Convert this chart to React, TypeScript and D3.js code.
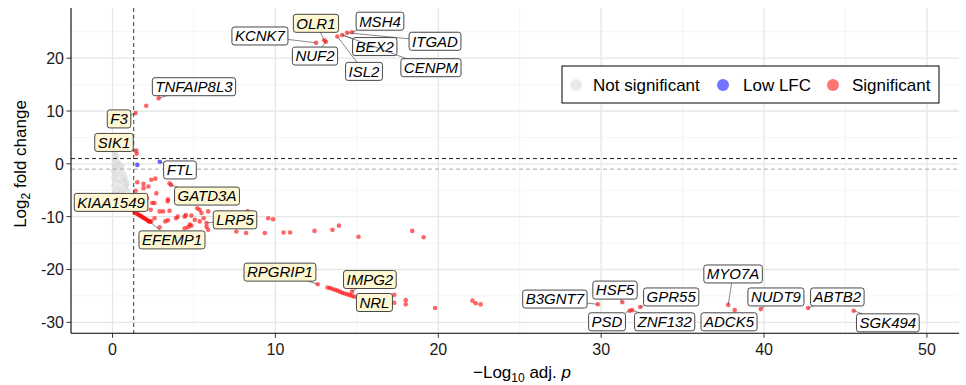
import React, { useEffect, useRef } from "react";
import * as d3 from "d3";

// ---------- data ----------
const xTicks = [0, 10, 20, 30, 40, 50];
const yTicks = [-30, -20, -10, 0, 10, 20];
const xMinor = [5, 15, 25, 35, 45];
const yMinor = [-25, -15, -5, 5, 15, 25];

const notSigPoints: [number, number][] = [
  [0.05, 2.4], [0.1, 1.8], [0.2, 1.2], [0.08, 0.9], [0.3, 0.6], [0.15, 0.3], [0.4, 0.1],
  [0.05, -0.2], [0.25, -0.4], [0.5, -0.6], [0.12, -0.8], [0.35, -1.0], [0.6, -1.1],
  [0.02, -1.3], [0.2, -1.5], [0.45, -1.7], [0.7, -1.8], [0.1, -2.0], [0.3, -2.2],
  [0.55, -2.4], [0.8, -2.5], [0.05, -2.7], [0.25, -2.9], [0.5, -3.1], [0.75, -3.2],
  [0.15, -3.4], [0.4, -3.6], [0.65, -3.8], [0.9, -3.9], [0.05, -4.1], [0.3, -4.3],
  [0.55, -4.5], [0.8, -4.6], [0.2, -4.8], [0.45, -5.0], [0.7, -5.2], [0.1, -5.4],
  [0.35, -5.6], [0.6, -5.8], [0.85, -4.2], [0.95, -5.0], [0.25, -6.0], [0.5, -6.1],
  [0.18, 2.0], [0.28, 1.5], [0.38, -0.1], [0.62, -0.3], [0.72, -2.9], [0.88, -3.4],
];

const lowLfcPoints: [number, number][] = [
  [1.52, -0.2], [2.9, 0.4],
];

const sigPoints: [number, number][] = [
  // top cluster
  [12.5, 22.9], [13.0, 23.4], [13.1, 23.1], [13.8, 24.1], [14.1, 24.4], [14.4, 24.8], [14.7, 24.9],
  // upper
  [2.83, 12.4], [2.07, 11.0], [1.42, 9.6], [1.46, 2.5], [1.48, 1.9],
  // middle
  [1.52, -3.5], [1.9, -3.8], [2.38, -3.0], [2.63, -2.8], [3.5, -3.7], [3.6, -4.0],
  [1.42, -5.1], [2.69, -5.6], [3.4, -6.7], [3.39, -7.1], [2.44, -7.4], [2.58, -7.4],
  [2.89, -9.0], [3.1, -9.0], [2.34, -8.7], [3.5, -8.9], [3.9, -10.3], [4.0, -10.0],
  [2.58, -10.3], [2.38, -10.9], [3.24, -10.9], [3.4, -10.7], [2.89, -12.0],
  [4.43, -10.0], [4.5, -9.7], [4.84, -9.8], [5.2, -8.4], [5.35, -8.7], [5.46, -9.3],
  [5.6, -10.3], [5.35, -10.9], [5.05, -10.6], [4.74, -11.5], [4.43, -12.2], [4.63, -12.0],
  [4.84, -11.7], [5.77, -11.9], [5.87, -12.5], [5.87, -9.0], [5.77, -11.2],
  [1.9, -4.6], [2.2, -4.3], [1.7, -6.2], [2.1, -6.5], [1.6, -8.1], [2.0, -8.3],
  [7.6, -12.8], [8.2, -13.1], [8.3, -9.0], [9.35, -13.1], [9.56, -10.3], [9.86, -10.5],
  [10.5, -13.0], [10.9, -13.0], [12.4, -12.7], [13.5, -12.5], [13.9, -11.7], [15.1, -13.8],
  [18.4, -12.7], [19.1, -13.9],
  // KIAA1549 streak
  [1.35, -9.2], [1.45, -9.4], [1.55, -9.5], [1.62, -9.7], [1.7, -9.8], [1.78, -9.95],
  [1.85, -10.1], [1.92, -10.25], [2.0, -10.4], [2.08, -10.55], [2.15, -10.7], [2.22, -10.85], [2.3, -11.0],
  // NRL streak
  [12.6, -22.8], [13.2, -23.4], [13.35, -23.5], [13.5, -23.7], [13.65, -23.85], [13.8, -24.0],
  [13.95, -24.2], [14.1, -24.4], [14.25, -24.55], [14.4, -24.7], [14.55, -24.85], [14.7, -25.0],
  [14.85, -25.15], [14.7, -24.2],
  // right
  [17.3, -24.8], [17.3, -26.3], [18.0, -25.8], [18.0, -26.6], [19.8, -27.3],
  [22.1, -25.9], [22.3, -26.4], [22.6, -26.6],
  // bottom right
  [29.8, -26.6], [31.3, -26.2], [31.75, -27.8], [31.9, -27.7], [32.4, -27.1],
  [37.8, -26.7], [38.2, -27.7], [39.8, -27.5], [42.7, -27.3], [45.5, -27.8],
];

// gene, point x, point y, label x, label y, highlighted
const labelGenes = [
  "OLR1", "MSH4", "KCNK7", "ITGAD", "BEX2", "NUF2", "ISL2", "CENPM", "TNFAIP8L3", "F3",
  "SIK1", "FTL", "GATD3A", "KIAA1549", "LRP5", "EFEMP1", "RPGRIP1", "IMPG2", "NRL",
  "B3GNT7", "HSF5", "GPR55", "PSD", "ZNF132", "MYO7A", "ADCK5", "NUDT9", "ABTB2", "SGK494",
];
const labelPointX = [13.0, 14.7, 12.5, 14.4, 14.1, 13.1, 13.8, 14.1, 2.83, 1.42,
  1.46, 2.9, 3.6, 1.35, 5.77, 2.3, 12.6, 14.7, 14.85,
  29.8, 31.3, 32.4, 31.75, 31.9, 37.8, 38.2, 39.8, 42.7, 45.5];
const labelPointY = [23.4, 24.9, 22.9, 24.8, 24.4, 23.1, 24.1, 24.4, 12.4, 9.6,
  2.5, 0.4, -4.0, -9.2, -11.2, -11.0, -22.8, -24.2, -25.15,
  -26.6, -26.2, -27.1, -27.8, -27.7, -26.7, -27.7, -27.5, -27.3, -27.8];
const labelX = [12.49, 16.42, 9.05, 19.8, 16.1, 12.43, 15.44, 19.55, 5.0, 0.4,
  0.09, 4.14, 5.8, -0.09, 7.52, 3.65, 10.28, 15.8, 16.08,
  27.16, 30.85, 34.3, 30.36, 33.9, 38.1, 37.85, 40.73, 44.5, 47.6];
const labelY = [26.6, 27.0, 24.2, 23.2, 22.2, 20.4, 17.5, 18.2, 14.6, 8.5,
  4.05, -1.16, -6.1, -7.3, -10.6, -14.4, -20.5, -21.9, -26.25,
  -25.6, -23.9, -25.2, -29.9, -29.9, -20.85, -29.9, -25.2, -25.2, -30.1];
const labelHighlighted = [true, false, false, false, false, false, false, false, false, true,
  true, false, true, true, true, true, true, true, true,
  false, false, false, false, false, false, false, false, false, false];

const legendLabels = ["Not significant", "Low LFC", "Significant"];

// ---------- styles ----------
const W = 966, H = 385;
const FONT = "'Liberation Sans', Arial, sans-serif";
const COL_NS = "#d6d6d6";
const COL_LOW = "#0000ff";
const COL_SIG = "#ff0000";

export default function App() {
  const ref = useRef<SVGSVGElement>(null);

  useEffect(() => {
    const svg = d3.select(ref.current);
    svg.selectAll("*").remove();

    const left = 71, right = 959, top = 8, bottom = 333.3;
    const x = d3.scaleLinear().domain([-2.55, 51.97]).range([left, right]);
    const y = d3.scaleLinear().domain([29.5, -32.08]).range([top, bottom]);

    const g = svg.append("g");

    // grid
    g.selectAll(".xminor").data(xMinor).join("line")
      .attr("x1", d => x(d)).attr("x2", d => x(d)).attr("y1", top).attr("y2", bottom)
      .attr("stroke", "#f2f2f2").attr("stroke-width", 0.8);
    g.selectAll(".yminor").data(yMinor).join("line")
      .attr("x1", left).attr("x2", right).attr("y1", d => y(d)).attr("y2", d => y(d))
      .attr("stroke", "#f2f2f2").attr("stroke-width", 0.8);
    g.selectAll(".xmajor").data(xTicks).join("line")
      .attr("x1", d => x(d)).attr("x2", d => x(d)).attr("y1", top).attr("y2", bottom)
      .attr("stroke", "#e6e6e6").attr("stroke-width", 1.3);
    g.selectAll(".ymajor").data(yTicks).join("line")
      .attr("x1", left).attr("x2", right).attr("y1", d => y(d)).attr("y2", d => y(d))
      .attr("stroke", "#e6e6e6").attr("stroke-width", 1.3);

    // points
    const pts = g.append("g");
    pts.selectAll(".ns").data(notSigPoints).join("circle")
      .attr("cx", d => x(d[0])).attr("cy", d => y(d[1])).attr("r", 2.3)
      .attr("fill", COL_NS).attr("fill-opacity", 0.6);
    pts.selectAll(".low").data(lowLfcPoints).join("circle")
      .attr("cx", d => x(d[0])).attr("cy", d => y(d[1])).attr("r", 2.3)
      .attr("fill", COL_LOW).attr("fill-opacity", 0.6);
    pts.selectAll(".sig").data(sigPoints).join("circle")
      .attr("cx", d => x(d[0])).attr("cy", d => y(d[1])).attr("r", 2.3)
      .attr("fill", COL_SIG).attr("fill-opacity", 0.6);

    // reference lines
    g.append("line").attr("x1", left).attr("x2", right).attr("y1", y(1)).attr("y2", y(1))
      .attr("stroke", "#222").attr("stroke-width", 1).attr("stroke-dasharray", "4,3");
    g.append("line").attr("x1", left).attr("x2", right).attr("y1", y(-1)).attr("y2", y(-1))
      .attr("stroke", "#aaa").attr("stroke-width", 1).attr("stroke-dasharray", "4,3");
    g.append("line").attr("x1", x(1.3)).attr("x2", x(1.3)).attr("y1", top).attr("y2", bottom)
      .attr("stroke", "#222").attr("stroke-width", 0.9).attr("stroke-dasharray", "4,3");

    // labels
    const lab = g.append("g");
    labelGenes.forEach((gene, i) => {
      const cx = x(labelX[i]), cy = y(labelY[i]);
      const px = x(labelPointX[i]), py = y(labelPointY[i]);
      const grp = lab.append("g");
      const seg = grp.append("line");
      const rect = grp.append("rect");
      const t = grp.append("text").text(gene)
        .attr("x", cx).attr("y", cy + 5.3).attr("text-anchor", "middle")
        .attr("font-family", FONT).attr("font-style", "italic").attr("font-size", 15)
        .attr("fill", "#000");
      const tw = (t.node() as SVGTextElement).getComputedTextLength();
      const hw = tw / 2 + 3, hh = 9;
      rect.attr("x", cx - hw).attr("y", cy - hh).attr("width", 2 * hw).attr("height", 2 * hh)
        .attr("rx", 2.5).attr("ry", 2.5)
        .attr("fill", labelHighlighted[i] ? "#fdf7d4" : "#ffffff")
        .attr("stroke", "#333").attr("stroke-width", 0.9);
      const dx = px - cx, dy = py - cy;
      const tt = Math.min(dx !== 0 ? hw / Math.abs(dx) : Infinity, dy !== 0 ? hh / Math.abs(dy) : Infinity);
      if (tt < 1) {
        const ex = cx + dx * tt, ey = cy + dy * tt;
        if (Math.hypot(px - ex, py - ey) > 3) {
          seg.attr("x1", px).attr("y1", py).attr("x2", ex).attr("y2", ey)
            .attr("stroke", "#555").attr("stroke-width", 0.7);
        }
      }
    });

    // axes
    const ax = g.append("g");
    ax.append("line").attr("x1", left).attr("x2", left).attr("y1", top).attr("y2", bottom)
      .attr("stroke", "#000").attr("stroke-width", 1.1);
    ax.append("line").attr("x1", left).attr("x2", right).attr("y1", bottom).attr("y2", bottom)
      .attr("stroke", "#000").attr("stroke-width", 1.1);
    ax.selectAll(".xt").data(xTicks).join("line")
      .attr("x1", d => x(d)).attr("x2", d => x(d)).attr("y1", bottom).attr("y2", bottom + 4.5)
      .attr("stroke", "#333").attr("stroke-width", 1);
    ax.selectAll(".yt").data(yTicks).join("line")
      .attr("x1", left - 4.5).attr("x2", left).attr("y1", d => y(d)).attr("y2", d => y(d))
      .attr("stroke", "#333").attr("stroke-width", 1);
    ax.selectAll(".xl").data(xTicks).join("text")
      .attr("x", d => x(d)).attr("y", bottom + 22).attr("text-anchor", "middle")
      .attr("font-family", FONT).attr("font-size", 16).attr("fill", "#1a1a1a")
      .text(d => String(d));
    ax.selectAll(".yl").data(yTicks).join("text")
      .attr("x", left - 7).attr("y", d => y(d) + 6).attr("text-anchor", "end")
      .attr("font-family", FONT).attr("font-size", 16).attr("fill", "#1a1a1a")
      .text(d => String(d));

    // axis titles
    const xt = g.append("text").attr("x", 522).attr("y", 378)
      .attr("text-anchor", "middle").attr("font-family", FONT).attr("font-size", 17).attr("fill", "#000");
    xt.append("tspan").text("\u2212Log");
    xt.append("tspan").text("10").attr("font-size", 12).attr("dy", 4);
    xt.append("tspan").text(" adj. ").attr("dy", -4);
    xt.append("tspan").text("p").attr("font-style", "italic");

    const yt = g.append("text").attr("transform", `translate(26,164) rotate(-90)`)
      .attr("text-anchor", "middle").attr("font-family", FONT).attr("font-size", 17).attr("fill", "#000");
    yt.append("tspan").text("Log");
    yt.append("tspan").text("2").attr("font-size", 12).attr("dy", 4);
    yt.append("tspan").text(" fold change").attr("dy", -4);

    // legend
    const lg = g.append("g");
    lg.append("rect").attr("x", 562).attr("y", 66).attr("width", 377).attr("height", 37)
      .attr("fill", "#fff").attr("stroke", "#000").attr("stroke-width", 1);
    const legCols = [COL_NS, COL_LOW, COL_SIG];
    const legDotX = [576, 723, 833];
    const legTextX = [593, 743, 852];
    legendLabels.forEach((l, i) => {
      lg.append("circle").attr("cx", legDotX[i]).attr("cy", 85).attr("r", 6)
        .attr("fill", legCols[i]).attr("fill-opacity", i === 0 ? 0.5 : 0.55);
      lg.append("text").attr("x", legTextX[i]).attr("y", 91).attr("font-family", FONT)
        .attr("font-size", 17).attr("fill", "#000").text(l);
    });
  }, []);

  return (
    <svg ref={ref} width={W} height={H}
      style={{ position: "absolute", left: 0, top: 0, background: "#fff" }} />
  );
}
